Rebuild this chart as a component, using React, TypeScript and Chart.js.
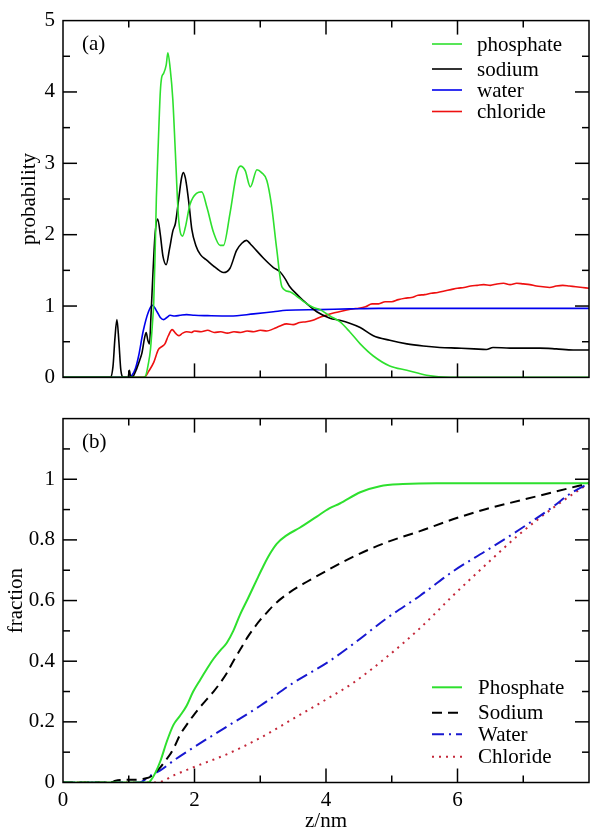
import React, { useEffect, useRef } from 'react';
import { Chart, registerables } from 'chart.js';
Chart.register(...registerables);

const FONT = '"Liberation Serif", "Times New Roman", serif';

// ---------- Panel (a): probability vs z/nm ----------
const phosphateZ = [0, 1.2, 1.25, 1.3, 1.33, 1.36, 1.38, 1.4, 1.42, 1.45, 1.48, 1.5, 1.53, 1.57, 1.595, 1.63, 1.67, 1.71, 1.756, 1.817, 1.86, 1.93, 2.03, 2.11, 2.19, 2.29, 2.39, 2.44, 2.54, 2.64, 2.7, 2.77, 2.85, 2.95, 3.02, 3.1, 3.17, 3.25, 3.33, 3.45, 3.55, 3.65, 3.81, 3.91, 4.06, 4.21, 4.36, 4.52, 4.72, 4.97, 5.23, 5.53, 5.88, 8];
const phosphateP = [0, 0, 0.01, 0.2, 0.39, 0.75, 1.05, 1.7, 2.51, 3.3, 4.0, 4.2, 4.26, 4.38, 4.55, 4.33, 3.9, 3.13, 2.25, 1.98, 2.1, 2.42, 2.58, 2.6, 2.38, 2.03, 1.85, 1.85, 2.3, 2.85, 2.96, 2.9, 2.67, 2.91, 2.87, 2.76, 2.42, 1.8, 1.27, 1.2, 1.14, 1.07, 0.98, 0.95, 0.86, 0.78, 0.64, 0.47, 0.3, 0.16, 0.1, 0.03, 0, 0];

const sodiumZ = [0, 0.72, 0.76, 0.79, 0.82, 0.85, 0.88, 0.92, 0.99, 1.01, 1.03, 1.07, 1.12, 1.17, 1.2, 1.24, 1.265, 1.29, 1.315, 1.34, 1.37, 1.4, 1.44, 1.48, 1.52, 1.57, 1.62, 1.67, 1.71, 1.76, 1.8, 1.83, 1.86, 1.88, 1.92, 1.96, 2.02, 2.09, 2.19, 2.29, 2.39, 2.44, 2.54, 2.64, 2.72, 2.79, 2.85, 2.9, 3.05, 3.2, 3.3, 3.38, 3.45, 3.55, 3.65, 3.86, 4.06, 4.21, 4.36, 4.52, 4.72, 4.97, 5.23, 5.48, 5.73, 6.0, 6.25, 6.44, 6.54, 6.8, 7.0, 7.25, 7.5, 7.76, 8];
const sodiumP = [0, 0, 0.15, 0.55, 0.81, 0.5, 0.1, 0, 0, 0.1, 0, 0.02, 0.12, 0.25, 0.34, 0.55, 0.63, 0.52, 0.47, 0.9, 1.5, 2.0, 2.22, 2.0, 1.7, 1.58, 1.8, 2.05, 2.16, 2.5, 2.78, 2.87, 2.8, 2.69, 2.4, 2.07, 1.85, 1.72, 1.64, 1.56, 1.49, 1.47, 1.53, 1.78, 1.88, 1.92, 1.87, 1.82, 1.67, 1.54, 1.48, 1.38, 1.27, 1.17, 1.08, 0.92, 0.83, 0.8, 0.76, 0.7, 0.585, 0.52, 0.47, 0.44, 0.42, 0.41, 0.4, 0.39, 0.42, 0.41, 0.41, 0.41, 0.4, 0.385, 0.385];

const waterZ = [0, 1.0, 1.05, 1.1, 1.15, 1.22, 1.3, 1.36, 1.43, 1.48, 1.53, 1.58, 1.63, 1.7, 1.78, 1.88, 2.0, 2.2, 2.54, 2.9, 3.2, 3.4, 3.9, 4.36, 4.8, 8];
const waterP = [0, 0, 0.03, 0.12, 0.3, 0.65, 0.92, 1.01, 0.92, 0.84, 0.81, 0.84, 0.87, 0.86, 0.87, 0.88, 0.87, 0.865, 0.86, 0.89, 0.92, 0.94, 0.95, 0.96, 0.967, 0.967];

const chlorideZ = [0, 1.22, 1.25, 1.3, 1.38, 1.45, 1.5, 1.55, 1.6, 1.66, 1.71, 1.76, 1.82, 1.88, 1.95, 2.0, 2.1, 2.2, 2.3, 2.4, 2.5, 2.6, 2.7, 2.8, 2.9, 3.0, 3.1, 3.2, 3.3, 3.4, 3.5, 3.6, 3.7, 3.8, 3.9, 4.0, 4.1, 4.2, 4.3, 4.4, 4.5, 4.6, 4.7, 4.8, 4.9, 5.0, 5.1, 5.2, 5.3, 5.4, 5.5, 5.6, 5.7, 5.8, 5.9, 6.0, 6.1, 6.2, 6.3, 6.4, 6.5, 6.6, 6.7, 6.8, 6.9, 7.0, 7.1, 7.2, 7.3, 7.4, 7.5, 7.6, 7.7, 7.8, 7.9, 8.0];
const chlorideP = [0, 0, 0.01, 0.08, 0.21, 0.39, 0.43, 0.47, 0.58, 0.67, 0.62, 0.585, 0.62, 0.64, 0.63, 0.65, 0.64, 0.66, 0.63, 0.64, 0.62, 0.64, 0.63, 0.65, 0.64, 0.66, 0.65, 0.68, 0.72, 0.75, 0.74, 0.77, 0.78, 0.8, 0.84, 0.87, 0.9, 0.92, 0.94, 0.96, 0.97, 0.99, 1.03, 1.03, 1.06, 1.06, 1.09, 1.11, 1.12, 1.15, 1.16, 1.18, 1.19, 1.21, 1.23, 1.25, 1.26, 1.28, 1.29, 1.3, 1.29, 1.31, 1.32, 1.3, 1.32, 1.31, 1.3, 1.28, 1.27, 1.26, 1.28, 1.29, 1.28, 1.27, 1.26, 1.25];

// ---------- Panel (b): cumulative fraction vs z/nm ----------
const phosFracZ = [0, 1.3, 1.33, 1.4, 1.48, 1.58, 1.68, 1.78, 1.88, 1.98, 2.09, 2.19, 2.29, 2.39, 2.49, 2.59, 2.69, 2.82, 2.95, 3.05, 3.15, 3.25, 3.4, 3.6, 3.86, 4.05, 4.21, 4.52, 4.82, 5.17, 5.68, 8];
const phosFrac = [0, 0, 0.005, 0.03, 0.07, 0.136, 0.19, 0.22, 0.253, 0.3, 0.34, 0.375, 0.408, 0.435, 0.46, 0.5, 0.552, 0.61, 0.67, 0.715, 0.755, 0.787, 0.815, 0.84, 0.877, 0.904, 0.92, 0.957, 0.977, 0.984, 0.987, 0.987];

const sodFracZ = [0, 0.72, 0.8, 0.87, 1.17, 1.25, 1.33, 1.4, 1.48, 1.55, 1.63, 1.7, 1.78, 1.88, 1.98, 2.09, 2.19, 2.29, 2.39, 2.49, 2.59, 2.7, 2.8, 2.9, 3.0, 3.1, 3.2, 3.4, 3.71, 4.05, 4.41, 4.92, 5.43, 5.93, 6.44, 6.95, 7.45, 8];
const sodFrac = [0, 0, 0.006, 0.008, 0.01, 0.013, 0.019, 0.032, 0.05, 0.07, 0.093, 0.12, 0.157, 0.19, 0.22, 0.25, 0.275, 0.3, 0.328, 0.36, 0.4, 0.44, 0.477, 0.508, 0.536, 0.56, 0.584, 0.62, 0.662, 0.703, 0.744, 0.792, 0.829, 0.868, 0.902, 0.93, 0.957, 0.987];

const watFracZ = [0, 1.17, 1.25, 1.35, 1.48, 1.7, 1.98, 2.49, 3.0, 3.5, 4.05, 4.41, 4.92, 5.43, 5.93, 6.44, 6.95, 7.45, 7.71, 8];
const watFrac = [0, 0, 0.01, 0.025, 0.04, 0.075, 0.115, 0.184, 0.253, 0.328, 0.4, 0.456, 0.541, 0.616, 0.696, 0.765, 0.835, 0.909, 0.952, 0.987];

const chlFracZ = [0, 1.43, 1.7, 1.98, 2.49, 3.0, 3.5, 4.05, 4.41, 4.92, 5.43, 5.93, 6.44, 6.95, 7.45, 8];
const chlFrac = [0, 0, 0.025, 0.05, 0.093, 0.147, 0.21, 0.28, 0.328, 0.413, 0.509, 0.616, 0.72, 0.82, 0.905, 0.987];

const labelsA = ['phosphate', 'sodium', 'water', 'chloride'];
const labelsB = ['Phosphate', 'Sodium', 'Water', 'Chloride'];

const pts = (z: number[], v: number[]) => z.map((x, i) => ({ x, y: v[i] }));

const isMult = (v: number, m: number) => Math.abs(v / m - Math.round(v / m)) < 1e-6;

const framePlugin = {
  id: 'frame',
  afterDraw(chart: any, _args: any, opts: any) {
    const { ctx, chartArea } = chart;
    const { left, right, top, bottom } = chartArea;
    const xs = chart.scales.x;
    const ys = chart.scales.y;
    ctx.save();
    ctx.setLineDash([]);
    ctx.strokeStyle = '#000';
    ctx.lineWidth = 1.5;
    ctx.strokeRect(left, top, right - left, bottom - top);
    const seg = (x1: number, y1: number, x2: number, y2: number) => {
      ctx.beginPath();
      ctx.moveTo(x1, y1);
      ctx.lineTo(x2, y2);
      ctx.stroke();
    };
    for (let v = xs.min; v <= xs.max + 1e-9; v += opts.xMinor) {
      const vv = Math.round(v * 1000) / 1000;
      if (vv <= xs.min || vv >= xs.max) continue;
      const px = xs.getPixelForValue(vv);
      const len = isMult(vv, opts.xMajor) ? 14 : 7;
      seg(px, bottom, px, bottom - len);
      seg(px, top, px, top + len);
    }
    for (let v = ys.min; v <= ys.max + 1e-9; v += opts.yMinor) {
      const vv = Math.round(v * 1000) / 1000;
      if (vv <= ys.min || vv >= ys.max) continue;
      const py = ys.getPixelForValue(vv);
      const len = isMult(vv, opts.yMajor) ? 14 : 7;
      seg(left, py, left + len, py);
      seg(right, py, right - len, py);
    }
    // panel label
    ctx.fillStyle = '#000';
    ctx.font = `21px ${FONT}`;
    ctx.textAlign = 'left';
    ctx.textBaseline = 'middle';
    ctx.fillText(opts.panel, left + 19, top + 24);
    // legend
    const lg = opts.legend;
    chart.data.datasets.forEach((ds: any, i: number) => {
      const y = lg.rows[i];
      ctx.strokeStyle = ds.borderColor;
      ctx.lineWidth = ds.borderWidth;
      ctx.setLineDash(ds.borderDash || []);
      seg(lg.x, y, lg.x + 30, y);
      ctx.setLineDash([]);
      ctx.fillStyle = '#000';
      ctx.fillText(ds.label, lg.x + lg.textGap, y + 1);
    });
    ctx.restore();
  },
};

const GREEN = '#2ee02e';
const BLACK = '#000000';
const BLUE = '#0000ee';
const RED = '#ee1010';

export default function App() {
  const topRef = useRef<HTMLCanvasElement>(null);
  const botRef = useRef<HTMLCanvasElement>(null);

  useEffect(() => {
    const tickFont = { family: FONT, size: 21 };
    const lineDs = (label: string, data: any, color: string, width: number, dash?: number[]) => ({
      label,
      data,
      borderColor: color,
      backgroundColor: color,
      borderWidth: width,
      borderDash: dash || [],
      pointRadius: 0,
      fill: false,
      cubicInterpolationMode: 'monotone' as const,
      tension: 0.3,
    });

    const top = new Chart(topRef.current!, {
      type: 'line',
      data: {
        datasets: [
          lineDs(labelsA[0], pts(phosphateZ, phosphateP), GREEN, 1.6),
          lineDs(labelsA[1], pts(sodiumZ, sodiumP), BLACK, 1.6),
          lineDs(labelsA[2], pts(waterZ, waterP), BLUE, 1.6),
          lineDs(labelsA[3], pts(chlorideZ, chlorideP), RED, 1.6),
        ],
      },
      options: {
        responsive: false,
        animation: false,
        layout: { padding: { left: 0, top: 13, right: 12, bottom: 9 } },
        plugins: {
          legend: { display: false },
          tooltip: { enabled: false },
          frame: {
            xMajor: 2, xMinor: 1, yMajor: 1, yMinor: 0.5, panel: '(a)',
            legend: { x: 432, textGap: 45, rows: [44, 69, 90, 111.5] },
          },
        } as any,
        scales: {
          x: { type: 'linear', min: 0, max: 8, display: false },
          y: {
            type: 'linear', min: 0, max: 5,
            afterFit: (s: any) => { s.width = 63; },
            grid: { display: false, drawTicks: false },
            border: { display: false },
            ticks: {
              stepSize: 0.5, autoSkip: false, padding: 8, color: '#000', font: tickFont,
              callback: (v: any) => (isMult(Number(v), 1) ? String(Math.round(Number(v))) : ''),
            },
            title: { display: true, text: 'probability', color: '#000', font: tickFont, padding: { top: 17, bottom: 0 } },
          },
        },
      },
      plugins: [framePlugin],
    });

    const bot = new Chart(botRef.current!, {
      type: 'line',
      data: {
        datasets: [
          lineDs(labelsB[0], pts(phosFracZ, phosFrac), GREEN, 2),
          lineDs(labelsB[1], pts(sodFracZ, sodFrac), BLACK, 2, [10, 6]),
          lineDs(labelsB[2], pts(watFracZ, watFrac), '#1818d0', 2, [12, 5, 2, 5]),
          lineDs(labelsB[3], pts(chlFracZ, chlFrac), '#c4283a', 2, [2, 5]),
        ],
      },
      options: {
        responsive: false,
        animation: false,
        layout: { padding: { left: 0, top: 9, right: 12, bottom: 0 } },
        plugins: {
          legend: { display: false },
          tooltip: { enabled: false },
          frame: {
            xMajor: 2, xMinor: 1, yMajor: 0.2, yMinor: 0.1, panel: '(b)',
            legend: { x: 432, textGap: 46, rows: [289.3, 314.7, 336.3, 358.7] },
          },
        } as any,
        scales: {
          x: {
            type: 'linear', min: 0, max: 8,
            afterFit: (s: any) => { s.height = 53.5; },
            grid: { display: false, drawTicks: false },
            border: { display: false },
            ticks: {
              stepSize: 1, autoSkip: false, maxRotation: 0, padding: 5, color: '#000', font: tickFont,
              callback: (v: any) => {
                const n = Math.round(Number(v));
                return n % 2 === 0 && n < 8 ? String(n) : '';
              },
            },
            title: { display: true, text: 'z/nm', color: '#000', font: tickFont, padding: { top: 0, bottom: 2 } },
          },
          y: {
            type: 'linear', min: 0, max: 1.2,
            afterFit: (s: any) => { s.width = 63; },
            grid: { display: false, drawTicks: false },
            border: { display: false },
            ticks: {
              stepSize: 0.1, autoSkip: false, padding: 8, color: '#000', font: tickFont,
              callback: (v: any) => {
                const r = Math.round(Number(v) * 10);
                if (r % 2 !== 0 || r > 10) return '';
                if (r === 0) return '0';
                if (r === 10) return '1';
                return (r / 10).toFixed(1);
              },
            },
            title: { display: true, text: 'fraction', color: '#000', font: tickFont, padding: { top: 4, bottom: 0 } },
          },
        },
      },
      plugins: [framePlugin],
    });

    return () => {
      top.destroy();
      bot.destroy();
    };
  }, []);

  return (
    <div style={{ position: 'absolute', left: 0, top: 0, width: 601, height: 836, background: '#fff' }}>
      <canvas ref={topRef} width={601} height={398} style={{ position: 'absolute', left: 0, top: 0 }} />
      <canvas ref={botRef} width={601} height={438} style={{ position: 'absolute', left: 0, top: 398 }} />
    </div>
  );
}
